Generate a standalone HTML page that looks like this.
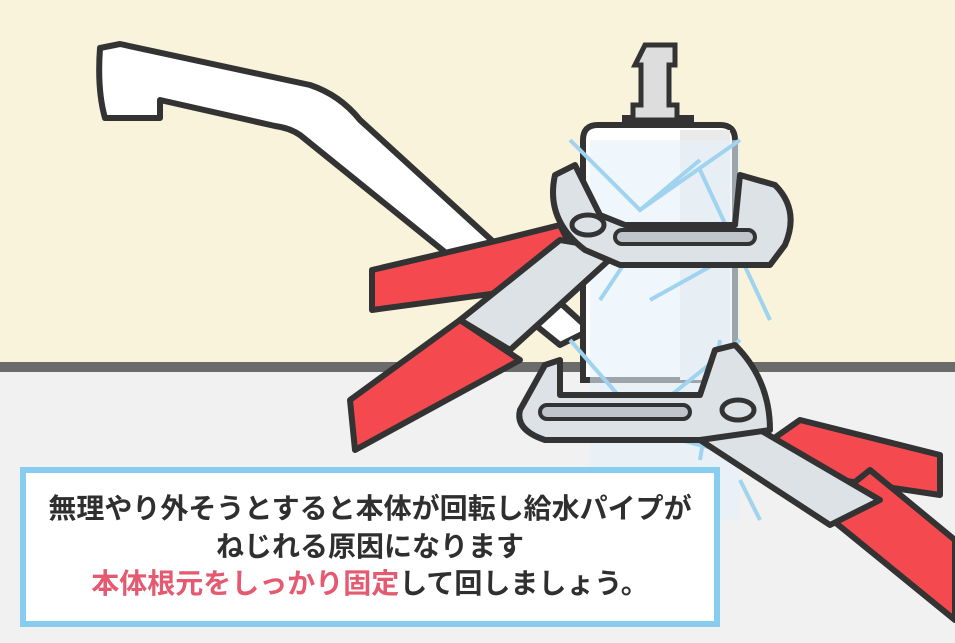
<!DOCTYPE html>
<html><head><meta charset="utf-8"><style>
html,body{margin:0;padding:0;width:955px;height:643px;overflow:hidden;background:#f8f3da}
.box{position:absolute;left:20px;top:467px;width:688px;height:148px;border:6px solid #86cdf0;background:#fff;box-sizing:content-box}
.t{position:absolute;left:0;width:688px;text-align:center;font-family:"Liberation Sans","Noto Sans CJK JP",sans-serif;font-weight:bold;font-size:28px;line-height:34px;color:#2f2f2f;white-space:nowrap}
.p{color:#e45a70}
</style></head><body>
<svg width="955" height="643" style="position:absolute;left:0;top:0" xmlns="http://www.w3.org/2000/svg">
<rect x="0" y="0" width="955" height="362" fill="#f8f3da"/>
<rect x="0" y="362" width="955" height="10" fill="#6b6b6b"/>
<rect x="0" y="372" width="955" height="271" fill="#f1f1f1"/>
<path d="M100,48 L120,44 L310,85 Q340,95 360,120 L590,330 L560,345 L300,135 Q290,128 275,126 L160,100 L160,118 L105,118 Q97,90 100,48 Z" fill="#fff" stroke="#333" stroke-width="6" stroke-linejoin="round"/>
<rect x="622" y="115" width="72" height="10" fill="#333"/>
<path d="M645,45 h30 v20 h-6 v40 h8 v15 h-44 v-15 h8 v-40 h-6 z" fill="#ddd" stroke="#333" stroke-width="5"/>
<path d="M583,140 Q583,125 598,125 L720,125 Q735,125 735,140 L735,380 L583,380 Z" fill="#fff" stroke="#333" stroke-width="6"/>
<rect x="680" y="130" width="50" height="250" fill="#eaeaea"/>
<path d="M590,140 L740,140 L740,520 L590,520 Z" fill="#e6f2fa" opacity="0.6"/>
<g stroke="#9fd3ef" stroke-width="4" fill="none">
<path d="M570,140 L640,210 L700,160 M740,140 L640,210 M700,170 L770,320 M600,300 L640,240 M650,300 L740,250 M570,340 L640,420 L740,340 M720,340 L700,460 M740,480 L760,520 M600,420 L720,450"/>
</g>
<path d="M372,270 L500,240 L560,225 L580,265 L520,290 L372,310 Z" fill="#f44a4f" stroke="#333" stroke-width="6" stroke-linejoin="round"/>
<path d="M350,400 L460,320 L520,360 L355,450 Z" fill="#f44a4f" stroke="#333" stroke-width="6" stroke-linejoin="round"/>
<path d="M460,320 L560,240 L620,250 L510,350 Z" fill="#dde2e6" stroke="#333" stroke-width="6" stroke-linejoin="round"/>
<path d="M555,175 L575,165 L600,215 L625,225 L735,225 L740,175 L775,185 Q800,210 785,245 L770,265 L620,265 L585,250 Q545,220 555,175 Z" fill="#dde2e6" stroke="#333" stroke-width="6" stroke-linejoin="round"/>
<rect x="615" y="230" width="140" height="14" rx="7" fill="#bfc5ca" stroke="#333" stroke-width="4"/>
<ellipse cx="588" cy="225" rx="16" ry="10" fill="#dde2e6" stroke="#333" stroke-width="5"/>
<path d="M750,455 L800,420 L940,455 L940,495 L840,480 Z" fill="#f44a4f" stroke="#333" stroke-width="6" stroke-linejoin="round"/>
<path d="M820,510 L870,470 L955,540 L955,620 Z" fill="#f44a4f" stroke="#333" stroke-width="6" stroke-linejoin="round"/>
<path d="M700,440 L760,430 L880,500 L830,525 Z" fill="#dde2e6" stroke="#333" stroke-width="6" stroke-linejoin="round"/>
<path d="M545,365 L560,360 L560,395 L700,395 L705,380 L715,350 L735,345 Q770,380 770,430 L700,440 L545,440 Q515,430 520,410 Z" fill="#dde2e6" stroke="#333" stroke-width="6" stroke-linejoin="round"/>
<rect x="540" y="405" width="150" height="14" rx="7" fill="#bfc5ca" stroke="#333" stroke-width="4"/>
<ellipse cx="738" cy="410" rx="16" ry="10" fill="#dde2e6" stroke="#333" stroke-width="5"/>
</svg>
<div class="box">
<div class="t" style="top:19px">無理やり外そうとすると本体が回転し給水パイプが</div>
<div class="t" style="top:57px">ねじれる原因になります</div>
<div class="t" style="top:94px"><span class="p">本体根元をしっかり固定</span>して回しましょう。</div>
</div>
</body></html>
